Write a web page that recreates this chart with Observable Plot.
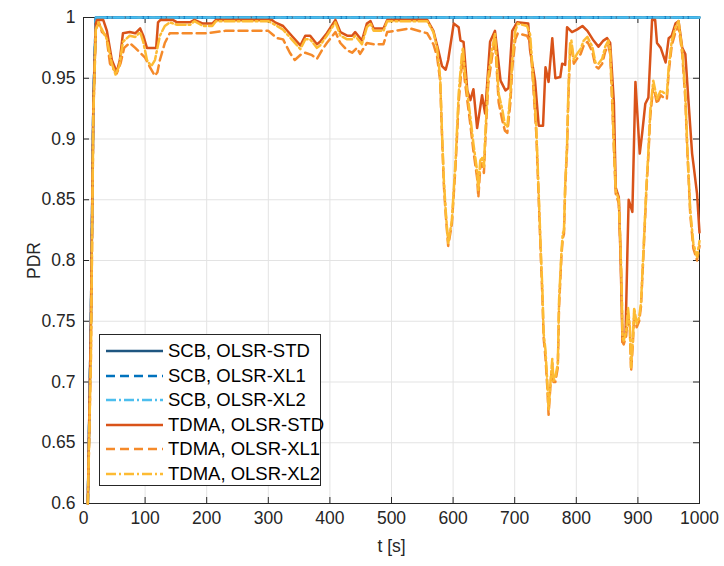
<!DOCTYPE html>
<html>
<head>
<meta charset="utf-8">
<script src="https://cdn.jsdelivr.net/npm/d3@7"></script>
<script src="https://cdn.jsdelivr.net/npm/@observablehq/plot@0.6"></script>
<style>
  html, body { margin: 0; padding: 0; background: #fff; }
  #wrap { position: relative; width: 724px; height: 566px; font-family: "Liberation Sans", Arial, sans-serif; }
  #legend { position: absolute; left: 99px; top: 334px; width: 222px; height: 152px; border: 1px solid #262626; background: #fff; box-sizing: border-box; }
  .row { position: absolute; left: 0; height: 24px; display: flex; align-items: center; white-space: nowrap; font-size: 18.5px; color: #000; }
  .row svg { margin-left: 6px; margin-right: 5px; }
</style>
</head>
<body>
<div id="wrap"><div id="chart"></div><div id="legend"></div></div>
<script>
// ---- data ----
const xTicks = [0, 100, 200, 300, 400, 500, 600, 700, 800, 900, 1000];
const yTicks = [0.6, 0.65, 0.7, 0.75, 0.8, 0.85, 0.9, 0.95, 1];
const seriesNames = ["SCB, OLSR-STD", "SCB, OLSR-XL1", "SCB, OLSR-XL2", "TDMA, OLSR-STD", "TDMA, OLSR-XL1", "TDMA, OLSR-XL2"];

const tScb = [7, 12, 16, 20, 100, 200, 300, 400, 500, 600, 700, 800, 900, 1000];
const pdrScbStd = [0.6, 0.75, 0.93, 1, 1, 1, 1, 1, 1, 1, 1, 1, 1, 1];
const pdrScbXl1 = [0.6, 0.75, 0.93, 1, 1, 1, 1, 1, 1, 1, 1, 1, 1, 1];
const pdrScbXl2 = [0.6, 0.75, 0.93, 1, 1, 1, 1, 1, 1, 1, 1, 1, 1, 1];

const tTdmaStd = [7,12,16,20,22,32,38,46,54,59,64,75,84,92,97,103,118,121,125,145,152,173,180,194,209,215,300,306,311,324,338,352,360,368,379,384,395,409,417,428,436,441,452,460,466,471,487,493,558,568,576,582,588,592,601,609,612,617,623,628,633,639,647,652,660,668,677,685,690,696,704,722,725,733,739,746,750,755,761,766,774,777,782,785,793,801,810,818,828,836,844,850,855,861,864,869,872,875,880,883,885,891,896,903,907,912,917,923,928,931,937,945,950,955,961,966,972,977,982,988,990,996,1000];
const pdrTdmaStd = [0.6,0.75,0.93,0.995,0.998,0.998,0.989,0.965,0.955,0.965,0.987,0.988,0.987,0.991,0.985,0.975,0.975,0.996,0.998,0.998,0.996,0.996,0.998,0.995,0.995,0.998,0.998,0.998,0.996,0.993,0.985,0.977,0.985,0.985,0.978,0.98,0.987,0.998,0.988,0.985,0.985,0.988,0.981,0.995,0.997,0.991,0.991,0.998,0.998,0.989,0.973,0.96,0.957,0.965,0.995,0.992,0.981,0.98,0.94,0.932,0.941,0.909,0.936,0.921,0.98,0.989,0.948,0.94,0.942,0.989,0.996,0.995,0.973,0.948,0.911,0.911,0.959,0.947,0.983,0.95,0.951,0.962,0.961,0.992,0.988,0.99,0.993,0.989,0.981,0.976,0.981,0.983,0.979,0.93,0.86,0.852,0.8,0.733,0.74,0.808,0.85,0.84,0.947,0.888,0.905,0.929,0.934,0.998,0.998,0.979,0.975,0.963,0.983,0.985,0.995,0.997,0.975,0.97,0.932,0.888,0.88,0.855,0.823];

const tTdmaXl1 = [7,12,16,20,25,30,37,43,48,54,60,66,75,84,90,100,108,116,120,124,132,140,150,173,200,230,300,314,324,335,343,354,360,371,379,387,395,409,417,428,436,444,449,460,471,487,493,530,558,568,574,579,582,585,588,592,598,604,609,614,616,619,628,633,639,641,644,647,650,652,657,663,668,674,680,684,688,693,696,701,705,720,725,728,735,739,743,745,747,750,753,755,758,761,763,766,770,772,776,778,780,782,785,787,790,792,796,801,807,812,818,826,831,836,842,847,852,855,858,861,864,869,872,874,875,877,881,884,887,889,892,894,898,902,905,909,914,917,920,925,931,937,942,947,950,955,961,966,972,977,980,985,990,996,1000];
const pdrTdmaXl1 = [0.6,0.72,0.92,0.99,0.996,0.988,0.985,0.962,0.958,0.954,0.962,0.975,0.979,0.975,0.972,0.967,0.959,0.952,0.955,0.965,0.979,0.987,0.987,0.987,0.987,0.989,0.989,0.983,0.982,0.971,0.965,0.97,0.971,0.969,0.966,0.973,0.979,0.988,0.979,0.973,0.971,0.975,0.97,0.979,0.978,0.978,0.988,0.991,0.987,0.978,0.968,0.948,0.903,0.862,0.838,0.812,0.83,0.878,0.93,0.96,0.966,0.948,0.912,0.89,0.868,0.852,0.876,0.88,0.872,0.895,0.945,0.967,0.982,0.93,0.915,0.907,0.905,0.93,0.958,0.982,0.987,0.985,0.98,0.96,0.905,0.85,0.795,0.77,0.736,0.72,0.695,0.673,0.697,0.715,0.7,0.7,0.712,0.762,0.805,0.818,0.822,0.86,0.892,0.932,0.975,0.978,0.962,0.966,0.97,0.977,0.98,0.972,0.96,0.958,0.962,0.972,0.977,0.97,0.933,0.892,0.855,0.847,0.805,0.764,0.733,0.731,0.738,0.757,0.742,0.709,0.733,0.757,0.745,0.75,0.762,0.805,0.86,0.886,0.918,0.944,0.929,0.936,0.934,0.933,0.955,0.977,0.988,0.993,0.97,0.933,0.893,0.838,0.81,0.8,0.812];

const tTdmaXl2 = [7,12,16,20,24,30,38,46,52,58,64,75,84,92,97,103,110,116,124,132,140,152,173,180,194,209,215,300,311,324,338,352,360,368,379,384,395,409,417,428,436,441,452,460,466,471,487,493,558,568,574,579,582,585,588,592,598,604,609,614,616,619,628,633,639,641,644,647,650,652,657,663,668,674,680,684,688,693,696,701,705,720,725,728,735,739,743,745,747,750,753,755,758,761,763,766,770,772,776,778,780,782,785,787,790,792,796,801,807,812,818,826,831,836,842,847,852,855,858,861,864,869,872,874,875,877,881,884,887,889,892,894,898,902,905,909,914,917,920,925,931,937,942,947,950,955,961,966,972,977,980,985,990,996,1000];
const pdrTdmaXl2 = [0.6,0.72,0.92,0.99,0.996,0.99,0.982,0.962,0.953,0.96,0.98,0.985,0.984,0.988,0.98,0.965,0.96,0.965,0.985,0.993,0.996,0.994,0.994,0.997,0.993,0.993,0.997,0.997,0.994,0.99,0.982,0.974,0.982,0.982,0.975,0.977,0.985,0.996,0.985,0.982,0.982,0.985,0.978,0.992,0.995,0.989,0.989,0.997,0.997,0.988,0.975,0.951,0.905,0.866,0.841,0.814,0.833,0.882,0.937,0.968,0.975,0.955,0.918,0.896,0.874,0.858,0.882,0.885,0.877,0.901,0.951,0.973,0.987,0.937,0.924,0.912,0.91,0.937,0.965,0.989,0.995,0.993,0.986,0.965,0.91,0.855,0.8,0.775,0.74,0.726,0.699,0.677,0.699,0.719,0.701,0.704,0.715,0.767,0.808,0.822,0.825,0.863,0.896,0.937,0.979,0.981,0.965,0.97,0.974,0.981,0.984,0.976,0.963,0.962,0.966,0.976,0.981,0.973,0.937,0.896,0.858,0.85,0.808,0.767,0.737,0.734,0.742,0.761,0.745,0.712,0.737,0.761,0.748,0.753,0.765,0.808,0.863,0.89,0.923,0.948,0.933,0.94,0.938,0.937,0.959,0.981,0.992,0.997,0.973,0.937,0.896,0.841,0.814,0.803,0.816];

// ---- styles ----
const styles = [
  {stroke: "#1f5680", dash: null},
  {stroke: "#0072BD", dash: "9,5"},
  {stroke: "#4DBEEE", dash: "10,3,2,3"},
  {stroke: "#D95319", dash: null},
  {stroke: "#F58A2A", dash: "9,5"},
  {stroke: "#FDBB33", dash: "10,3,2,3"}
];
const series = [
  [tScb, pdrScbStd], [tScb, pdrScbXl1], [tScb, pdrScbXl2],
  [tTdmaStd, pdrTdmaStd], [tTdmaXl1, pdrTdmaXl1], [tTdmaXl2, pdrTdmaXl2]
];

const W = 724, H = 566, mL = 83, mR = 25, mT = 17, mB = 63;
const pw = W - mL - mR, ph = H - mT - mB;

const lineMarks = series.map(([ts, vs], i) => {
  const data = ts.map((t, j) => ({t, v: vs[j]}));
  const opt = {x: "t", y: "v", stroke: styles[i].stroke, strokeWidth: 2.5, strokeLinejoin: "round"};
  if (styles[i].dash) opt.strokeDasharray = styles[i].dash;
  return Plot.line(data, opt);
});

const chart = Plot.plot({
  width: W, height: H,
  marginLeft: mL, marginRight: mR, marginTop: mT, marginBottom: mB,
  style: {fontFamily: "'Liberation Sans', Arial, sans-serif", fontSize: "17px", color: "#262626", background: "#fff"},
  x: {domain: [0, 1000]},
  y: {domain: [0.6, 1]},
  marks: [
    Plot.gridX(xTicks, {stroke: "#e3e3e3", strokeOpacity: 1}),
    Plot.gridY(yTicks, {stroke: "#e3e3e3", strokeOpacity: 1}),
    Plot.frame({stroke: "#262626", strokeWidth: 1}),
    Plot.tickX(xTicks, {x: d => d, insetTop: ph - 6, stroke: "#262626"}),
    Plot.tickX(xTicks, {x: d => d, insetBottom: ph - 6, stroke: "#262626"}),
    Plot.tickY(yTicks, {y: d => d, insetRight: pw - 6, stroke: "#262626"}),
    Plot.tickY(yTicks, {y: d => d, insetLeft: pw - 6, stroke: "#262626"}),
    Plot.axisX(xTicks, {tickSize: 0, tickPadding: 8, tickFormat: d => String(d), label: "t [s]", labelAnchor: "center", labelOffset: 48, labelArrow: "none", fill: "#262626", fontSize: 17.5}),
    Plot.axisY(yTicks, {tickSize: 0, tickPadding: 8, tickFormat: d3.format("~g"), label: "PDR", labelAnchor: "center", labelOffset: 56, labelArrow: "none", fill: "#262626", fontSize: 17.5}),
    ...lineMarks
  ]
});
document.getElementById("chart").appendChild(chart);

// ---- legend ----
const legend = document.getElementById("legend");
seriesNames.forEach((name, i) => {
  const row = document.createElement("div");
  row.className = "row";
  row.style.top = (4 + i * 24.5) + "px";
  const dash = styles[i].dash ? ` stroke-dasharray="${styles[i].dash}"` : "";
  row.innerHTML = `<svg width="57" height="6"><line x1="0" y1="3" x2="57" y2="3" stroke="${styles[i].stroke}" stroke-width="2.5"${dash}/></svg><span>${name}</span>`;
  legend.appendChild(row);
});
</script>
</body>
</html>
